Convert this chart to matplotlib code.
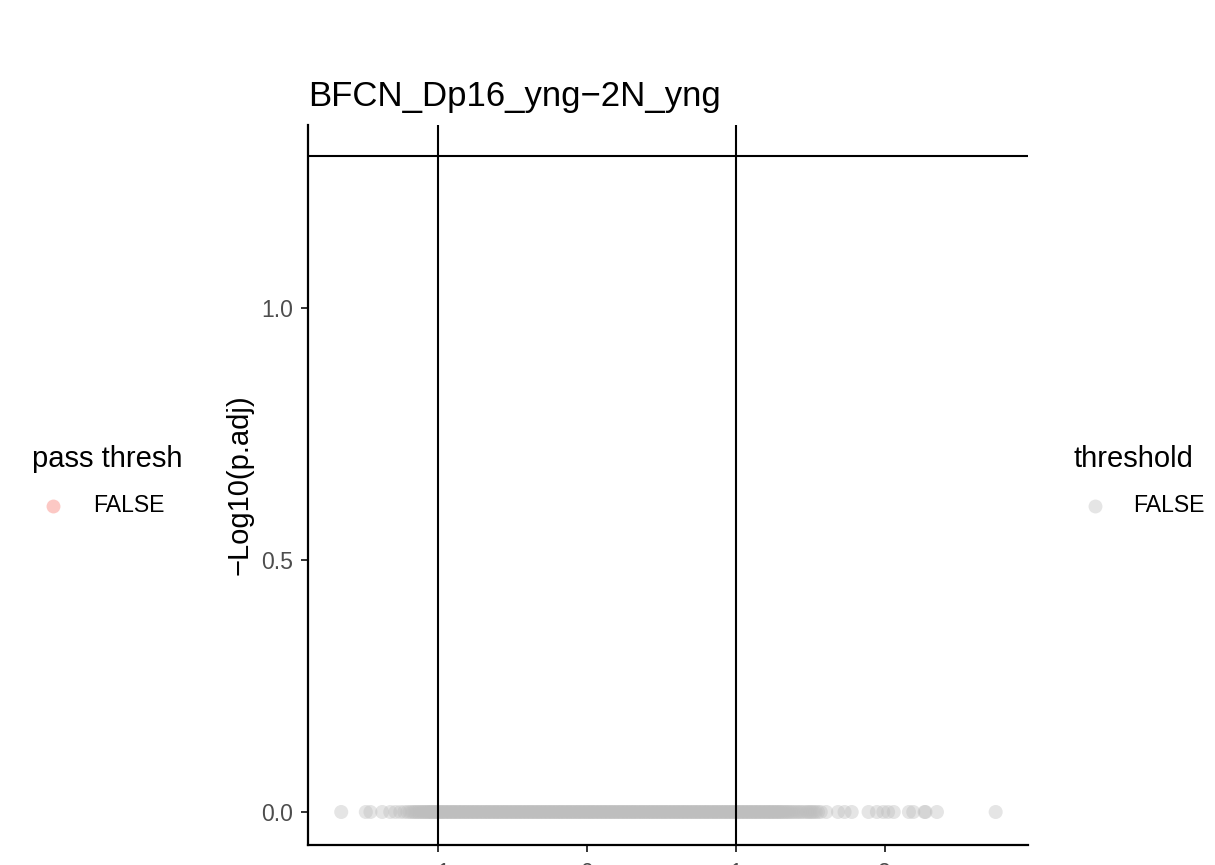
import math
import matplotlib
matplotlib.use("Agg")
import matplotlib.pyplot as plt
from matplotlib.lines import Line2D
from matplotlib.ticker import FormatStrFormatter

plt.rcParams['font.family'] = ['Liberation Sans', 'DejaVu Sans']

title = "BFCN_Dp16_yng\u22122N_yng"
y_label = "\u2212Log10(p.adj)"

# log2 fold changes (all genes, none pass threshold)
log2fc = [
    -1.647, -1.482, -1.451, -1.372, -1.318, -1.283, -1.251, -1.224, -1.203, -1.187,
    -1.172, -1.160, -1.149, -1.138, -1.127, -1.118, -1.106, -1.097, -1.089, -1.078,
    -1.070, -1.061, -1.052, -1.046, -1.037, -1.029, -1.021, -1.013, -1.006,
    -0.995, -0.987, -0.978, -0.969, -0.961, -0.952, -0.944, -0.933, -0.926, -0.917,
    -0.908, -0.899, -0.891, -0.882, -0.874, -0.863, -0.856, -0.847, -0.839, -0.828,
    -0.821, -0.812, -0.803, -0.795, -0.786, -0.777, -0.768, -0.759, -0.751, -0.742,
    -0.733, -0.725, -0.716, -0.707, -0.698, -0.689, -0.681, -0.672, -0.663, -0.655,
    -0.646, -0.637, -0.628, -0.619, -0.611, -0.602, -0.593, -0.585, -0.576, -0.567,
    -0.558, -0.549, -0.541, -0.532, -0.523, -0.515, -0.506, -0.497, -0.488, -0.479,
    -0.471, -0.462, -0.453, -0.445, -0.436, -0.427, -0.418, -0.409, -0.401, -0.392,
    -0.383, -0.375, -0.366, -0.357, -0.348, -0.339, -0.331, -0.322, -0.313, -0.305,
    -0.296, -0.287, -0.278, -0.269, -0.261, -0.252, -0.243, -0.235, -0.226, -0.217,
    -0.208, -0.199, -0.191, -0.182, -0.173, -0.165, -0.156, -0.147, -0.138, -0.129,
    -0.121, -0.112, -0.103, -0.095, -0.086, -0.077, -0.068, -0.059, -0.051, -0.042,
    -0.033, -0.025, -0.016, -0.007, 0.002, 0.011, 0.019, 0.028, 0.037, 0.045,
    0.054, 0.063, 0.072, 0.081, 0.089, 0.098, 0.107, 0.115, 0.124, 0.133,
    0.142, 0.151, 0.159, 0.168, 0.177, 0.185, 0.194, 0.203, 0.212, 0.221,
    0.229, 0.238, 0.247, 0.255, 0.264, 0.273, 0.282, 0.291, 0.299, 0.308,
    0.317, 0.325, 0.334, 0.343, 0.352, 0.361, 0.369, 0.378, 0.387, 0.395,
    0.404, 0.413, 0.422, 0.431, 0.439, 0.448, 0.457, 0.465, 0.474, 0.483,
    0.492, 0.501, 0.509, 0.518, 0.527, 0.535, 0.544, 0.553, 0.562, 0.571,
    0.579, 0.588, 0.597, 0.605, 0.614, 0.623, 0.632, 0.641, 0.649, 0.658,
    0.667, 0.675, 0.684, 0.693, 0.702, 0.711, 0.719, 0.728, 0.737, 0.745,
    0.754, 0.763, 0.772, 0.781, 0.789, 0.798, 0.807, 0.815, 0.824, 0.833,
    0.842, 0.851, 0.859, 0.868, 0.877, 0.885, 0.894, 0.903, 0.912, 0.921,
    0.929, 0.938, 0.947, 0.955, 0.964, 0.973, 0.982, 0.991, 0.999, 1.008,
    1.017, 1.025, 1.034, 1.043, 1.052, 1.061, 1.069, 1.078, 1.087, 1.095,
    1.104, 1.113, 1.122, 1.131, 1.139, 1.148, 1.157, 1.165, 1.174, 1.183,
    1.192, 1.201, 1.209, 1.218, 1.227, 1.235, 1.244, 1.253, 1.262, 1.271,
    1.279, 1.288, 1.297, 1.305, 1.316, 1.327, 1.335, 1.348, 1.356, 1.369,
    1.381, 1.392, 1.408, 1.419, 1.433, 1.446, 1.462, 1.478, 1.489,
    1.501, 1.512, 1.525, 1.538, 1.553, 1.571, 1.608, 1.687, 1.731, 1.779,
    1.892, 1.948, 1.991, 2.023, 2.061, 2.163, 2.192, 2.268, 2.274, 2.351,
    2.745,
]
# -log10(p.adj): every gene has p.adj = 1
neglog_padj = [0.0] * len(log2fc)

fc_cutoffs = [-1, 1]
padj_cutoff = 0.05
x_ticks = [-1, 0, 1, 2]
y_ticks = [0.0, 0.5, 1.0]

W, H = 1215, 865
fig = plt.figure(figsize=(W / 100, H / 100), dpi=100)
ax = fig.add_axes([308 / W, (H - 845) / H, 720 / W, 720 / H])

ax.scatter(log2fc, neglog_padj, s=102, c='#BEBEBE', alpha=0.4,
           edgecolors='none', zorder=2)

hl = -math.log10(padj_cutoff)
for v in fc_cutoffs:
    ax.axvline(v, color='black', lw=1.5, zorder=3)
ax.axhline(hl, color='black', lw=1.5, zorder=3)

ax.set_xlim(-1.870, 2.962)
ax.set_ylim(-0.0655, 1.3635)
ax.set_xticks(x_ticks)
ax.set_yticks(y_ticks)
ax.yaxis.set_major_formatter(FormatStrFormatter('%.1f'))
for s in ['top', 'right']:
    ax.spines[s].set_visible(False)
for s in ['left', 'bottom']:
    ax.spines[s].set_linewidth(1.6)
    ax.spines[s].set_color('black')
ax.tick_params(axis='both', length=5, width=1.4, color='#333333',
               labelcolor='#4D4D4D', labelsize=16.6, pad=5.5)
ax.tick_params(axis='x', pad=7)

fig.text(308 / W, 1 - 106 / H, title, fontsize=25, ha='left', va='baseline')
fig.text(240 / W, 1 - 485 / H, y_label, fontsize=21, rotation=90,
         ha='center', va='center')

# left legend: pass thresh
fig.text(32 / W, 1 - 459 / H, "pass thresh", fontsize=21, ha='left', va='center')
fig.add_artist(Line2D([53 / W], [1 - 506 / H], marker='o', markersize=10,
                      color='#F8766D', alpha=0.4, markeredgewidth=0,
                      linestyle='none', transform=fig.transFigure))
fig.text(93 / W, 1 - 506 / H, "FALSE", fontsize=16.6, ha='left', va='center')

# right legend: threshold
fig.text(1073 / W, 1 - 459 / H, "threshold", fontsize=21, ha='left', va='center')
fig.add_artist(Line2D([1095 / W], [1 - 506 / H], marker='o', markersize=10,
                      color='#BEBEBE', alpha=0.4, markeredgewidth=0,
                      linestyle='none', transform=fig.transFigure))
fig.text(1133 / W, 1 - 506 / H, "FALSE", fontsize=16.6, ha='left', va='center')

fig.savefig("out.png", dpi=100)
